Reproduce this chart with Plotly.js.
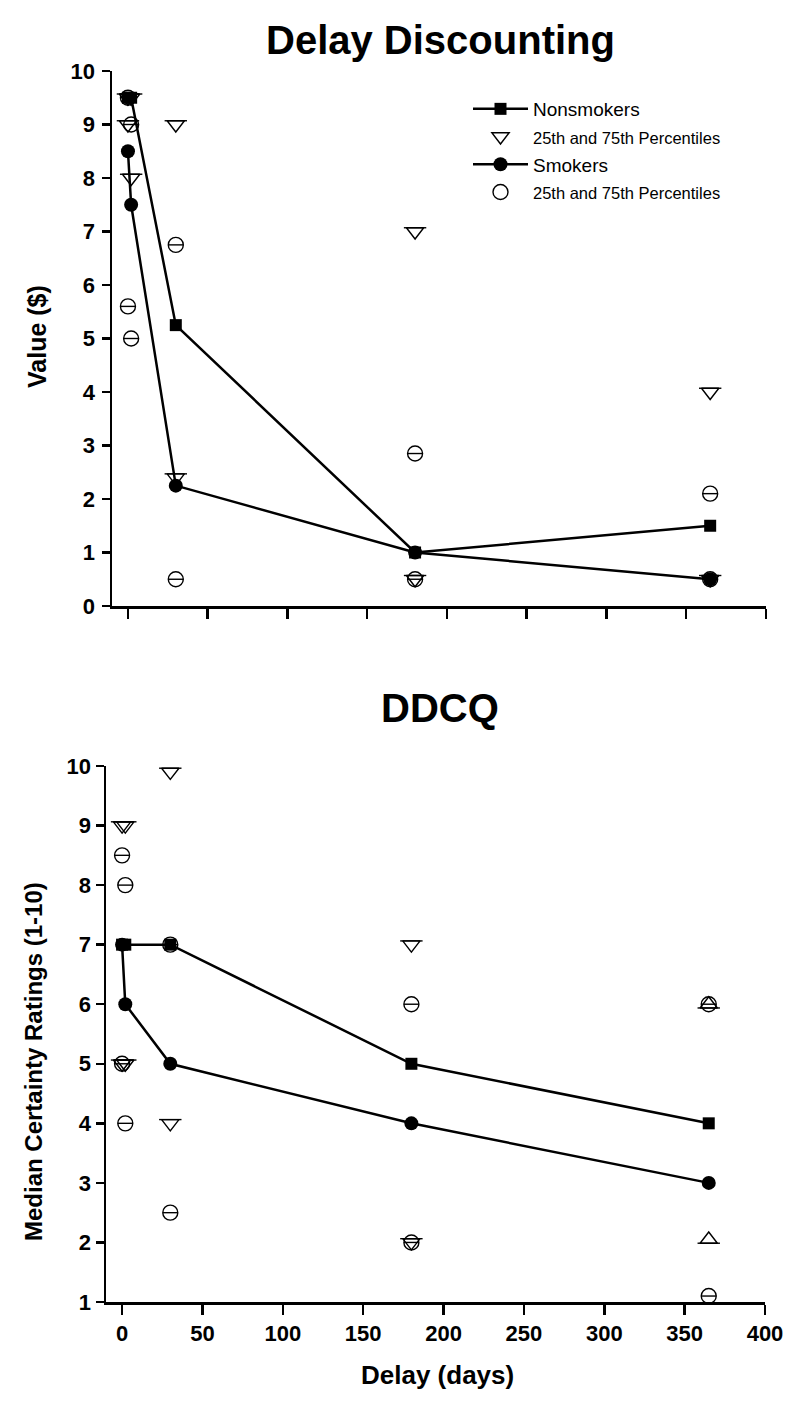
<!DOCTYPE html>
<html>
<head>
<meta charset="utf-8">
<script src="https://cdn.plot.ly/plotly-3.0.1.min.js"></script>
<style>html,body{margin:0;padding:0;background:#fff;}#chart{width:800px;height:1405px;}</style>
</head>
<body>
<div id="chart"></div>
<script>
// ---- data ----
const delays = [0, 2, 30, 180, 365];
const xTicks = [0, 50, 100, 150, 200, 250, 300, 350, 400];
const ddTicks = [0, 1, 2, 3, 4, 5, 6, 7, 8, 9, 10];
const cqTicks = [1, 2, 3, 4, 5, 6, 7, 8, 9, 10];

// Delay Discounting (Value $)
const ddNonsmokers = [9.5, 9.5, 5.25, 1.0, 1.5];
const ddSmokers    = [8.5, 7.5, 2.25, 1.0, 0.5];
const ddNonP75 = [9.5, 9.5, 9.0, 7.0, 4.0];
const ddNonP25 = [9.0, 8.0, 2.4, 0.5, 0.5];
const ddSmP75  = [9.5, 9.0, 6.75, 2.85, 2.1];
const ddSmP25  = [5.6, 5.0, 0.5, 0.5, 0.5];

// DDCQ (Median Certainty Ratings)
const cqNonsmokers = [7, 7, 7, 5, 4];
const cqSmokers    = [7, 6, 5, 4, 3];
const cqNonP75 = [9, 9, 9.9, 7, 6];
const cqNonP25 = [5, 5, 4, 2, 2.05];
const cqSmP75  = [8.5, 8, 7, 6, 6];
const cqSmP25  = [5, 4, 2.5, 2, 1.1];

const names = {
  non: 'Nonsmokers',
  smk: 'Smokers',
  pct: '<span style="font-size:16.5px">25th and 75th Percentiles</span>'
};

// ---- styling ----
const NARROW = '"Liberation Sans Narrow", "Arial Narrow", "Liberation Sans", Arial, sans-serif';
const PLAIN = '"Liberation Sans", Arial, sans-serif';
const TRI = 15;          // triangle marker size
const TRI_OFF = TRI / 4; // distance from centre to triangle flat edge
const CIR = 15;

function percentileTraces(xa, ya, x, y, kind, upAt, showLeg, rank) {
  const traces = [];
  if (kind === 'tri') {
    const sym = x.map(v => (upAt !== null && v === upAt) ? 'triangle-up-open' : 'triangle-down-open');
    traces.push({
      x: x, y: y, xaxis: xa, yaxis: ya, type: 'scatter', mode: 'markers',
      name: names.pct, showlegend: showLeg, legendrank: rank, cliponaxis: false,
      marker: {symbol: sym, size: TRI, color: '#000', line: {color: '#000', width: 1.4}}
    });
    traces.push({
      x: x, y: y, xaxis: xa, yaxis: ya, type: 'scatter', mode: 'markers',
      showlegend: false, hoverinfo: 'skip', cliponaxis: false,
      marker: {symbol: 'line-ew', size: 16, color: '#000',
               angle: x.map(v => (upAt !== null && v === upAt) ? 0 : 180),
               standoff: TRI_OFF, line: {color: '#000', width: 1.4}}
    });
  } else {
    traces.push({
      x: x, y: y, xaxis: xa, yaxis: ya, type: 'scatter', mode: 'markers',
      name: names.pct, showlegend: showLeg, legendrank: rank, cliponaxis: false,
      marker: {symbol: 'circle-open', size: CIR, color: '#000', line: {color: '#000', width: 1.4}}
    });
    traces.push({
      x: x, y: y, xaxis: xa, yaxis: ya, type: 'scatter', mode: 'markers',
      showlegend: false, hoverinfo: 'skip', cliponaxis: false,
      marker: {symbol: 'line-ew', size: 10.5, color: '#000', line: {color: '#000', width: 1.4}}
    });
  }
  return traces;
}

function medianTrace(xa, ya, y, name, sym, size, showLeg, rank) {
  return {
    x: delays, y: y, xaxis: xa, yaxis: ya, type: 'scatter', mode: 'lines+markers',
    name: name, showlegend: showLeg, legendrank: rank, cliponaxis: false,
    line: {color: '#000', width: 2.5},
    marker: {symbol: sym, size: size, color: '#000'}
  };
}

const both = () => delays.concat(delays);
const data = [].concat(
  percentileTraces('x', 'y', both(), ddNonP75.concat(ddNonP25), 'tri', null, true, 2),
  percentileTraces('x', 'y', both(), ddSmP75.concat(ddSmP25), 'cir', null, true, 4),
  [medianTrace('x', 'y', ddSmokers, names.smk, 'circle', 14, true, 3),
   medianTrace('x', 'y', ddNonsmokers, names.non, 'square', 12, true, 1)],
  percentileTraces('x2', 'y2', both(), cqNonP75.concat(cqNonP25), 'tri', 365, false, 10),
  percentileTraces('x2', 'y2', both(), cqSmP75.concat(cqSmP25), 'cir', null, false, 10),
  [medianTrace('x2', 'y2', cqSmokers, names.smk, 'circle', 14, false, 10),
   medianTrace('x2', 'y2', cqNonsmokers, names.non, 'square', 12, false, 10)]
);

const tickFont = {family: NARROW, size: 22, color: '#000', weight: 'bold'};
const axisCommon = {
  showline: true, linecolor: '#000', linewidth: 2.5, mirror: false,
  ticks: 'outside', tickcolor: '#000', tickwidth: 2.5,
  showgrid: false, zeroline: false, tickfont: tickFont, fixedrange: true
};

const H = 1405, W = 800;
const layout = {
  width: W, height: H,
  margin: {l: 0, r: 0, t: 0, b: 0},
  paper_bgcolor: '#fff', plot_bgcolor: '#fff',
  showlegend: true,
  legend: {
    x: 468 / W, y: 1 - 90 / H, xanchor: 'left', yanchor: 'top',
    font: {family: PLAIN, size: 19, color: '#000'},
    bgcolor: 'rgba(0,0,0,0)', borderwidth: 0, itemwidth: 55,
    traceorder: 'normal'
  },
  xaxis: Object.assign({}, axisCommon, {
    domain: [112 / W, 766 / W], range: [-10, 400], anchor: 'y',
    tickmode: 'array', tickvals: xTicks, showticklabels: false, ticklen: 10
  }),
  yaxis: Object.assign({}, axisCommon, {
    domain: [(H - 606) / H, (H - 71) / H], range: [0, 10], anchor: 'x',
    tickmode: 'array', tickvals: ddTicks, ticklen: 8, ticklabelstandoff: 2
  }),
  xaxis2: Object.assign({}, axisCommon, {
    domain: [106 / W, 765 / W], range: [-10, 400], anchor: 'y2',
    tickmode: 'array', tickvals: xTicks, ticklen: 10
  }),
  yaxis2: Object.assign({}, axisCommon, {
    domain: [(H - 1302) / H, (H - 766) / H], range: [1, 10], anchor: 'x2',
    tickmode: 'array', tickvals: cqTicks, ticklen: 8
  }),
  annotations: [
    {text: 'Delay Discounting', xref: 'paper', yref: 'paper', x: 440 / W, y: 1 - 40 / H,
     showarrow: false, xanchor: 'center', yanchor: 'middle',
     font: {family: NARROW, size: 40, color: '#000', weight: 'bold'}},
    {text: 'DDCQ', xref: 'paper', yref: 'paper', x: 440 / W, y: 1 - 708 / H,
     showarrow: false, xanchor: 'center', yanchor: 'middle',
     font: {family: NARROW, size: 40, color: '#000', weight: 'bold'}},
    {text: 'Value ($)', xref: 'paper', yref: 'paper', x: 37 / W, y: 1 - 337 / H,
     showarrow: false, textangle: -90, xanchor: 'center', yanchor: 'middle',
     font: {family: NARROW, size: 25, color: '#000', weight: 'bold'}},
    {text: 'Median Certainty Ratings (1-10)', xref: 'paper', yref: 'paper', x: 33 / W, y: 1 - 1062 / H,
     showarrow: false, textangle: -90, xanchor: 'center', yanchor: 'middle',
     font: {family: NARROW, size: 24, color: '#000', weight: 'bold'}},
    {text: 'Delay (days)', xref: 'paper', yref: 'paper', x: 437 / W, y: 1 - 1375 / H,
     showarrow: false, xanchor: 'center', yanchor: 'middle',
     font: {family: NARROW, size: 26, color: '#000', weight: 'bold'}}
  ]
};

Plotly.newPlot('chart', data, layout, {displayModeBar: false, staticPlot: true});
</script>
</body>
</html>
